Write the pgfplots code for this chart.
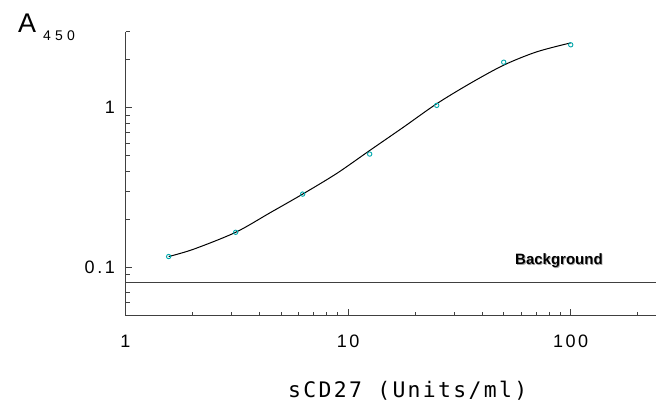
\documentclass[border=0pt]{standalone}
\usepackage{fontspec}
\setmainfont{Liberation Sans}
\newfontfamily\tickfont{Liberation Sans}[LetterSpace=14]
\newfontfamily\labelfont{DejaVu Sans Mono}[LetterSpace=11]
\newfontfamily\subfont{Liberation Sans}[LetterSpace=30]
\usepackage{pgfplots}
\pgfplotsset{compat=1.18}
\definecolor{axisgray}{RGB}{64,64,64}
\definecolor{pointcyan}{RGB}{0,168,172}

\begin{document}
\begin{tikzpicture}[x=1bp,y=1bp]
\useasboundingbox (0,0) rectangle (656,401);
\begin{axis}[
  at={(125.5bp,85.5bp)}, anchor=south west,
  scale only axis, width=530.5bp, height=283.9bp,
  xmode=log, ymode=log,
  xmin=1, xmax=241.6, ymin=0.05, ymax=3,
  axis x line*=bottom, axis y line*=left,
  axis line style={axisgray, line width=1bp, -},
  tick align=inside,
  tick style={axisgray, line width=1bp},
  major tick length=7bp, minor tick length=4bp,
  xtick={1,10,100}, xticklabels={1,10,100},
  minor xtick={2,3,4,5,6,7,8,9,20,30,40,50,60,70,80,90,200},
  ytick={0.1,1}, yticklabels={0.1,1},
  minor ytick={0.06,0.07,0.08,0.09,0.2,0.3,0.4,0.5,0.6,0.7,0.8,0.9,2,3},
  xticklabel style={font=\tickfont\fontsize{18bp}{20bp}\selectfont, inner sep=0pt, anchor=north, yshift=-19.5bp},
  yticklabel style={font=\tickfont\fontsize{18bp}{20bp}\selectfont, inner sep=0pt, anchor=east, xshift=-10.5bp},
  xlabel={sCD27 (Units/ml)},
  xlabel style={font=\labelfont\fontsize{21.4bp}{24bp}\selectfont, at={(axis description cs:0.3063,-0.288)}, anchor=base west, inner sep=0pt},
]
% fitted standard curve
\addplot[black, line width=1bp, smooth, no markers] coordinates {
  (1.5625,0.117) (2.02,0.130) (3.125,0.166) (4.46,0.220) (6.25,0.288)
  (8.89,0.388) (12.5,0.540) (17.7,0.755) (25,1.06) (35.3,1.42)
  (50,1.85) (70.3,2.24) (100,2.55)
};
% measured standards
\addplot[only marks, mark=o, mark size=2.2bp, mark options={pointcyan, line width=0.9bp}] coordinates {
  (1.5625,0.117) (3.125,0.166) (6.25,0.288) (12.5,0.513)
  (25,1.035) (50,1.93) (100,2.48)
};
% background level
\addplot[axisgray, line width=1bp, no markers] coordinates {(1,0.08) (241.6,0.08)};
\node[anchor=base west, inner sep=0pt, text=black!35, font=\bfseries\fontsize{15bp}{17bp}\selectfont] at ([xshift=0.8bp,yshift=-0.8bp]axis cs:56.2,0.1043) {Background};
\node[anchor=base west, inner sep=0pt, font=\bfseries\fontsize{15bp}{17bp}\selectfont] at (axis cs:56.2,0.1043) {Background};
\end{axis}
\node[anchor=base west, inner sep=0pt, font=\fontsize{27bp}{30bp}\selectfont] at (18,369) {A};
\node[anchor=base west, inner sep=0pt, font=\subfont\fontsize{14bp}{16bp}\selectfont] at (43,361) {450};
\end{tikzpicture}
\end{document}
